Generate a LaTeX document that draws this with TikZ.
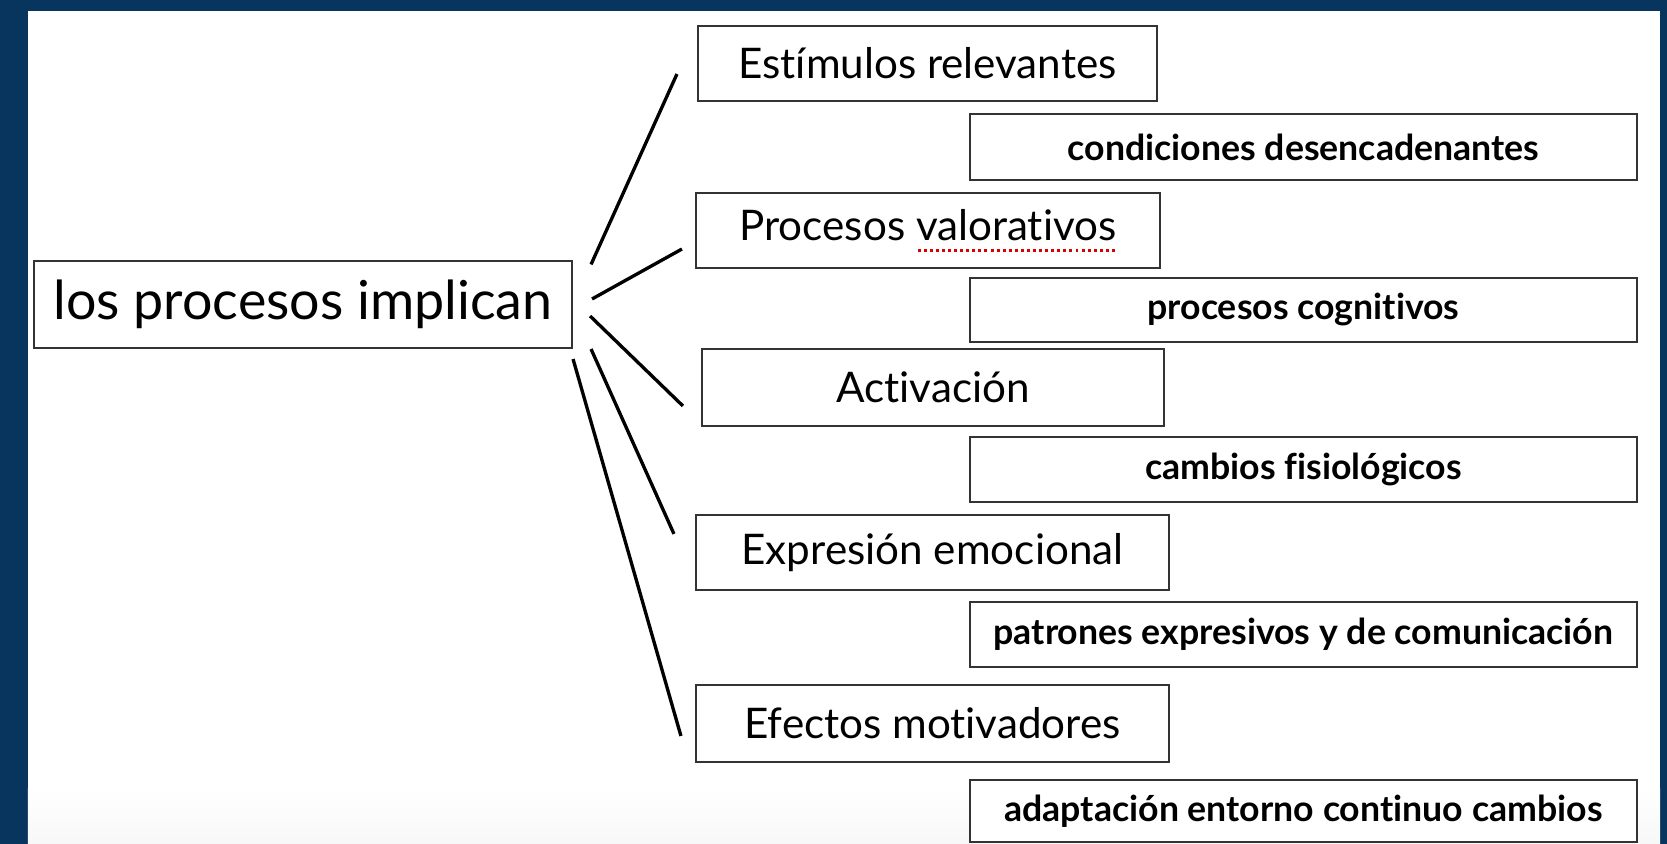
\documentclass[tikz,border=0pt]{standalone}
\usepackage{fontspec}
\setmainfont{Lato}[Ligatures=NoCommon]
\usetikzlibrary{positioning,calc}

\definecolor{framenavy}{RGB}{7,53,94}

% red dotted spell-check mark under a word
\newcommand\spellmark[1]{%
  \setbox0=\hbox{#1}%
  \rlap{\color{red!85!black}\raisebox{-3.4pt}{\hbox to \wd0{\xleaders\hbox to 1.7pt{\hss\rule{0.85pt}{0.85pt}\hss}\hfill}}}%
  \box0}

\begin{document}
\begin{tikzpicture}[
  topic/.style={draw=black!80, line width=0.6pt, fill=white, inner sep=0pt,
    font=\fontsize{12}{14}\selectfont},
  detail/.style={draw=black!80, line width=0.6pt, fill=white, inner sep=0pt,
    minimum width=6.67cm, font=\fontsize{10.15}{12}\selectfont\bfseries},
  spoke/.style={line width=0.95pt, black}
]

\useasboundingbox (0,0) rectangle (16.67,8.44);

% ================= FRAME =================
\fill[framenavy] (0,0) rectangle (16.67,8.44);
\fill[white] (0.28,0) rectangle (16.60,8.33);
\shade[top color=white, bottom color=black!3] (0.28,0) rectangle (16.60,0.55);

% ================= ROOT =================
\node[topic, minimum width=5.38cm, minimum height=0.87cm,
  font=\fontsize{15.3}{17}\selectfont] (root) at (3.03,5.395) {los procesos implican};

% ================= LEFT COLUMN =================
\node[topic, minimum width=4.59cm, minimum height=0.75cm] (estim) at (9.275,7.805)
  {Estímulos relevantes};
\node[topic, minimum width=4.64cm, minimum height=0.75cm] (valor) at (9.28,6.135)
  {Procesos \spellmark{valorativos}};
\node[topic, minimum width=4.62cm, minimum height=0.77cm] (activ) at (9.33,4.565)
  {Activación};
\node[topic, minimum width=4.73cm, minimum height=0.75cm] (expre) at (9.325,2.915)
  {Expresión emocional};
\node[topic, minimum width=4.73cm, minimum height=0.77cm] (efect) at (9.325,1.205)
  {Efectos motivadores};

% ================= RIGHT COLUMN =================
\node[detail, minimum height=0.66cm] (condi) at (13.035,6.97) {condiciones desencadenantes};
\node[detail, minimum height=0.64cm] (cogni) at (13.035,5.34) {procesos cognitivos};
\node[detail, minimum height=0.65cm] (fisio) at (13.035,3.745) {cambios fisiológicos};
\node[detail, minimum height=0.65cm] (patro) at (13.035,2.095) {patrones expresivos y de comunicación};
\node[detail, minimum height=0.62cm] (adapt) at (13.035,0.33) {adaptación entorno continuo cambios};

% ================= SPOKES =================
\draw[spoke] ([shift={(0.18,-0.045)}]root.north east) -- ([shift={(-0.20,0.28)}]estim.south west);
\draw[spoke] ([shift={(0.19,0.055)}]root.east) -- ([shift={(-0.13,0.20)}]valor.south west);
\draw[spoke] ([shift={(0.17,-0.115)}]root.east) -- ([shift={(-0.18,-0.185)}]activ.west);
\draw[spoke] ([shift={(0.18,0)}]root.south east) -- ([shift={(-0.21,-0.20)}]expre.north west);
\draw[spoke] ([shift={(0,-0.10)}]root.south east) -- ([shift={(-0.14,-0.125)}]efect.west);

\end{tikzpicture}
\end{document}
